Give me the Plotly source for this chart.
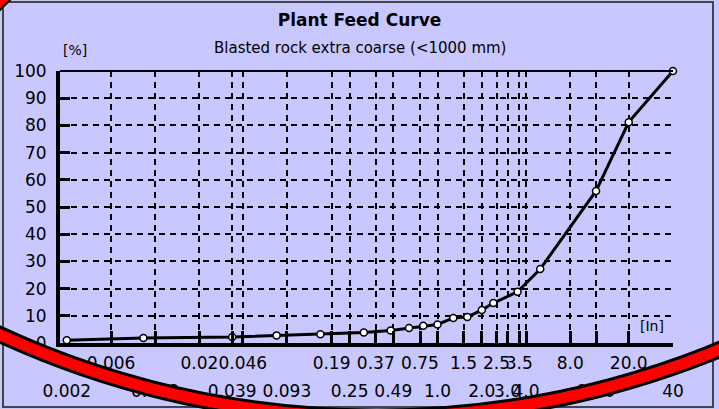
import plotly.graph_objects as go

# ---- data ----
size_in = [0.00295, 0.0098, 0.0394, 0.079, 0.157, 0.31, 0.472, 0.63, 0.787, 0.984,
           1.26, 1.57, 1.97, 2.36, 3.45, 4.92, 11.8, 19.7, 39.4]
passing_pct = [1.0, 1.8, 2.2, 2.8, 3.2, 3.9, 4.6, 5.5, 6.3, 6.8,
               9.2, 9.6, 12.1, 14.7, 18.8, 27.2, 55.9, 81.2, 100.0]

grid_vals = [0.0059, 0.0118, 0.0236, 0.0394, 0.0465, 0.0929, 0.187, 0.248, 0.374, 0.492,
             0.748, 0.984, 1.48, 1.97, 2.48, 2.95, 3.54, 3.94, 7.87, 11.8, 19.7, 39.4]
grid_text = ["0.006", "", "0.02", "", "0.046", "", "0.19", "", "0.37", "",
             "0.75", "", "1.5", "", "2.5", "", "3.5", "", "8.0", "", "20.0", ""]
low_vals = [0.00295, 0.0118, 0.0394, 0.0929, 0.248, 0.492, 0.984, 1.97, 2.95, 3.94, 11.8, 39.4]
low_text = ["0.002", "0.012", "0.039", "0.093", "0.25", "0.49", "1.0", "2.0", "3.0", "4.0", "12.0", "40"]
y_ticks = [0, 10, 20, 30, 40, 50, 60, 70, 80, 90, 100]

W, H = 719, 409
L, R, T, B = 60, 46, 71, 66
PW, PH = W - L - R, H - T - B

def px(x):
    return (x - L) / PW

def py(y):
    return (H - B - y) / PH

BG = "#C8C8FF"
FONT = "DejaVu Sans"
xr = [-2.5763, 1.5957]

fig = go.Figure()
fig.add_trace(go.Scatter(
    x=size_in, y=passing_pct, mode="lines+markers",
    line=dict(color="black", width=3),
    marker=dict(symbol="circle", size=7, color="white", line=dict(color="black", width=1.5)),
    cliponaxis=False, showlegend=False, hoverinfo="x+y"))
fig.add_trace(go.Scatter(x=size_in, y=passing_pct, mode="none", xaxis="x2",
                         showlegend=False, hoverinfo="skip"))

dash = "6px,5px"
fig.update_layout(
    width=W, height=H,
    margin=dict(l=L, r=R, t=T, b=B, autoexpand=False),
    paper_bgcolor=BG, plot_bgcolor=BG,
    font=dict(family=FONT, color="black"),
    title=dict(text="<b>Plant Feed Curve</b>", x=0.5, xanchor="center",
               y=1 - 20 / H, yanchor="middle", yref="container",
               font=dict(family=FONT, size=17, color="black")),
    xaxis=dict(type="log", range=xr, tickvals=grid_vals, ticktext=grid_text,
               showline=True, linecolor="black", linewidth=4, automargin=False,
               ticks="inside", ticklen=12, tickwidth=3, tickcolor="black",
               showgrid=True, gridcolor="black", gridwidth=1.6, griddash=dash,
               tickangle=0, tickfont=dict(family=FONT, size=17, color="black"),
               ticklabelstandoff=2),
    xaxis2=dict(type="log", range=xr, overlaying="x", anchor="y", side="bottom",
                tickvals=low_vals, ticktext=low_text, showgrid=False, showline=False,
                automargin=False,
                ticks="", tickangle=0, tickfont=dict(family=FONT, size=17, color="black"),
                ticklabelstandoff=36),
    yaxis=dict(range=[0, 100], tickvals=y_ticks,
               showline=True, linecolor="black", linewidth=4, zeroline=False,
               automargin=False,
               ticks="inside", ticklen=10, tickwidth=3, tickcolor="black",
               showgrid=True, gridcolor="black", gridwidth=1.6, griddash=dash,
               tickfont=dict(family=FONT, size=17, color="black"),
               ticklabelstandoff=6),
)

fig.add_annotation(text="Blasted rock extra coarse (<1000 mm)", xref="paper", yref="paper",
                   x=px(360), y=py(48), showarrow=False, xanchor="center", yanchor="middle",
                   font=dict(family=FONT, size=15, color="black"))
fig.add_annotation(text="[%]", xref="paper", yref="paper", x=px(75), y=py(50),
                   showarrow=False, xanchor="center", yanchor="middle",
                   font=dict(family=FONT, size=14, color="black"))
fig.add_annotation(text="[In]", xref="paper", yref="paper", x=px(652), y=py(326),
                   showarrow=False, xanchor="center", yanchor="middle",
                   font=dict(family=FONT, size=14, color="black"))

# top border of plot
fig.add_shape(type="line", xref="paper", yref="paper", x0=0, x1=1, y0=1, y1=1,
              line=dict(color="black", width=2))
# outer frame
fig.add_shape(type="rect", xref="paper", yref="paper", x0=px(3), x1=px(713), y0=py(407), y1=py(2),
              line=dict(color="#444444", width=2), layer="above")
# red arc overlay
cx, cy, rad = 377, -487, 904
for col, wd in (("black", 17), ("#FF0000", 11)):
    fig.add_shape(type="circle", xref="paper", yref="paper",
                  x0=px(cx - rad), x1=px(cx + rad), y0=py(cy + rad), y1=py(cy - rad),
                  line=dict(color=col, width=wd), layer="above")
fig.add_shape(type="path", xref="paper", yref="paper",
              path=f"M {px(-2)},{py(-2)} L {px(12)},{py(-2)} L {px(-2)},{py(12)} Z",
              fillcolor="#FF0000", line=dict(color="black", width=2), layer="above")

fig.write_html("out.html", config={"displayModeBar": False},
               post_script="document.body.style.margin='0';document.body.style.background='" + BG + "';")
